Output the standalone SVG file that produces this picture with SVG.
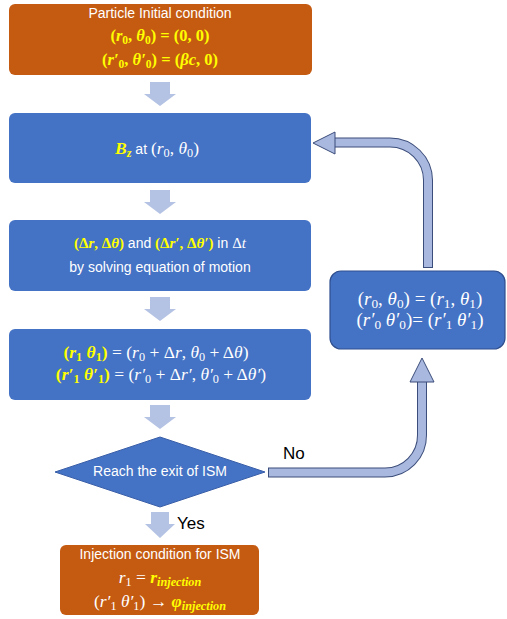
<svg xmlns="http://www.w3.org/2000/svg" width="507" height="619" viewBox="0 0 507 619">
<style>
.orange{fill:#C55A11}
.blue{fill:#4472C4}
.t{font-family:"Liberation Sans",Arial,sans-serif;fill:#fff;font-size:14px}
.m{font-family:"Liberation Serif","Times New Roman",serif;fill:#fff;font-size:17.5px}
.m1{font-size:16.5px}
.m3{font-size:15px}
.mr{font-size:19px}
.y{fill:#FFFF00;font-weight:bold}
.i{font-style:italic}
.s{font-size:0.7em}
.lbl{font-family:"Liberation Sans",Arial,sans-serif;fill:#000;font-size:17px}
.da{fill:#B4C2E4}
.co{fill:none;stroke:#3B4D7A;stroke-width:10}
.ci{fill:none;stroke:#A9B8DE;stroke-width:8}
.ch{fill:#A9B8DE;stroke:#3B4D7A;stroke-width:1}
</style>
<rect width="507" height="619" fill="#fff"/>
<g id="connectors">
  <path class="da" d="M150,82 H170 V94 H176 L160,106 L144,94 H150 Z"/>
  <path class="da" d="M150,190 H170 V202 H176 L160,214 L144,202 H150 Z"/>
  <path class="da" d="M150,297 H170 V309 H176 L160,321 L144,309 H150 Z"/>
  <path class="da" d="M150,405 H170 V417 H176 L160,429 L144,417 H150 Z"/>
  <path class="da" d="M151,512 H169 V524 H175 L160,538 L145,524 H151 Z"/>
  <g id="loop-back">
    <path class="co" d="M428,268 V180 A38,38 0 0 0 390,142.5 H334"/>
    <path class="ci" d="M428,267 V180 A38,38 0 0 0 390,142.5 H333"/>
    <polygon class="ch" points="313,143 335,132 335,154"/>
  </g>
  <g id="no-branch">
    <path class="co" d="M268,472.5 H385 A37,37 0 0 0 422,435 V381"/>
    <path class="ci" d="M269,472.5 H385 A37,37 0 0 0 422,435 V380"/>
    <polygon class="ch" points="422,358 410,382 434,382"/>
  </g>
  <text class="lbl" x="283" y="459">No</text>
  <text class="lbl" x="177" y="529">Yes</text>
</g>
<g id="initial">
  <rect class="orange" x="9" y="4" width="303" height="71" rx="6"/>
  <text class="t" x="160" y="18" text-anchor="middle" font-size="14.5">Particle Initial condition</text>
  <text class="m m1 y" x="160" y="41" text-anchor="middle">(<tspan class="i">r</tspan><tspan class="s" dy="3">0</tspan><tspan dy="-3">, </tspan><tspan class="i">θ</tspan><tspan class="s" dy="3">0</tspan><tspan dy="-3">) = (0, 0)</tspan></text>
  <text class="m m1 y" x="160" y="65" text-anchor="middle">(<tspan class="i">r′</tspan><tspan class="s" dy="3">0</tspan><tspan dy="-3">, </tspan><tspan class="i">θ′</tspan><tspan class="s" dy="3">0</tspan><tspan dy="-3">) = (</tspan><tspan class="i">βc</tspan>, 0)</text>
</g>
<g id="bz">
  <rect class="blue" x="9" y="113" width="302" height="70" rx="6"/>
  <text class="m" x="157" y="154" text-anchor="middle"><tspan class="y i">B</tspan><tspan class="y i s" dy="3">z</tspan><tspan class="t" dy="-3"> at </tspan><tspan>(</tspan><tspan class="i">r</tspan><tspan class="s" dy="3">0</tspan><tspan dy="-3">, </tspan><tspan class="i">θ</tspan><tspan class="s" dy="3">0</tspan><tspan dy="-3">)</tspan></text>
</g>
<g id="solve">
  <rect class="blue" x="9" y="220" width="302" height="71" rx="6"/>
  <text class="m m3" x="160" y="248" text-anchor="middle"><tspan class="y">(Δ<tspan class="i">r</tspan>, Δ<tspan class="i">θ</tspan>)</tspan><tspan class="t" font-size="13.5"> and </tspan><tspan class="y">(Δ<tspan class="i">r′</tspan>, Δ<tspan class="i">θ′</tspan>)</tspan><tspan class="t" font-size="13.5"> in </tspan>Δ<tspan class="i">t</tspan></text>
  <text class="t" x="160" y="272" text-anchor="middle">by solving equation of motion</text>
</g>
<g id="update">
  <rect class="blue" x="9" y="329" width="302" height="71" rx="6"/>
  <text class="m" x="156" y="358" text-anchor="middle"><tspan class="y">(<tspan class="i">r</tspan><tspan class="s" dy="3">1</tspan><tspan dy="-3"> </tspan><tspan class="i">θ</tspan><tspan class="s" dy="3">1</tspan><tspan dy="-3">)</tspan></tspan> = (<tspan class="i">r</tspan><tspan class="s" dy="3">0</tspan><tspan dy="-3"> + Δ</tspan><tspan class="i">r</tspan>, <tspan class="i">θ</tspan><tspan class="s" dy="3">0</tspan><tspan dy="-3"> + Δ</tspan><tspan class="i">θ</tspan>)</text>
  <text class="m" x="161" y="380" text-anchor="middle"><tspan class="y">(<tspan class="i">r′</tspan><tspan class="s" dy="3">1</tspan><tspan dy="-3"> </tspan><tspan class="i">θ′</tspan><tspan class="s" dy="3">1</tspan><tspan dy="-3">)</tspan></tspan> = (<tspan class="i">r′</tspan><tspan class="s" dy="3">0</tspan><tspan dy="-3"> + Δ</tspan><tspan class="i">r′</tspan>, <tspan class="i">θ′</tspan><tspan class="s" dy="3">0</tspan><tspan dy="-3"> + Δ</tspan><tspan class="i">θ′</tspan>)</text>
</g>
<g id="exit-check">
  <polygon class="blue" points="160,437 265,472 160,507 55,472" stroke="#3A5FA8" stroke-width="1"/>
  <text class="t" x="160" y="476" text-anchor="middle" font-size="12.5">Reach the exit of ISM</text>
</g>
<g id="reassign">
  <rect class="blue" x="330" y="271" width="175" height="78" rx="11" stroke="#2F4F8F" stroke-width="1.2"/>
  <text class="m mr" x="420" y="305" text-anchor="middle">(<tspan class="i">r</tspan><tspan class="s" dy="3">0</tspan><tspan dy="-3">, </tspan><tspan class="i">θ</tspan><tspan class="s" dy="3">0</tspan><tspan dy="-3">) = (</tspan><tspan class="i">r</tspan><tspan class="s" dy="3">1</tspan><tspan dy="-3">, </tspan><tspan class="i">θ</tspan><tspan class="s" dy="3">1</tspan><tspan dy="-3">)</tspan></text>
  <text class="m mr" x="420" y="326" text-anchor="middle">(<tspan class="i">r′</tspan><tspan class="s" dy="3">0</tspan><tspan dy="-3"> </tspan><tspan class="i">θ′</tspan><tspan class="s" dy="3">0</tspan><tspan dy="-3">)= (</tspan><tspan class="i">r′</tspan><tspan class="s" dy="3">1</tspan><tspan dy="-3"> </tspan><tspan class="i">θ′</tspan><tspan class="s" dy="3">1</tspan><tspan dy="-3">)</tspan></text>
</g>
<g id="injection">
  <rect class="orange" x="60" y="545" width="199" height="70" rx="6"/>
  <text class="t" x="160" y="559" text-anchor="middle">Injection condition for ISM</text>
  <text class="m" x="160" y="583" text-anchor="middle"><tspan class="i">r</tspan><tspan class="s" dy="3">1</tspan><tspan dy="-3"> = </tspan><tspan class="y i" font-weight="normal">r</tspan><tspan class="y i s" font-weight="normal" dy="3">injection</tspan></text>
  <text class="m" x="160" y="607" text-anchor="middle">(<tspan class="i">r′</tspan><tspan class="s" dy="3">1</tspan><tspan dy="-3"> </tspan><tspan class="i">θ′</tspan><tspan class="s" dy="3">1</tspan><tspan dy="-3">) → </tspan><tspan class="y i" font-weight="normal">φ</tspan><tspan class="y i s" font-weight="normal" dy="3">injection</tspan></text>
</g>
</svg>
